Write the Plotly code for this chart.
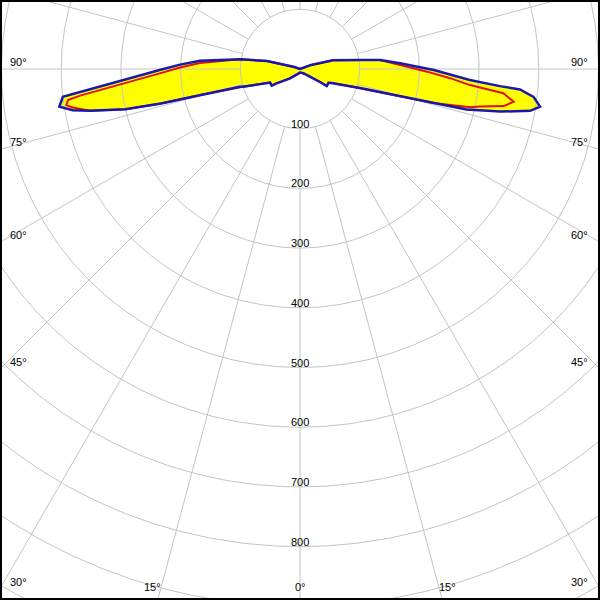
import numpy as np
import plotly.graph_objects as go

# ---- data: luminous intensity (cd) vs. angle from nadir (deg, + to the right) ----
blue_gamma = [-180, -115, -110, -103.5, -99.2, -94.7, -92.1, -89.6, -87.7, -86.2, -85.0, -84.0,
              -83.3, -81.1, -79.7, -78.8, -77.0, -76.1, -75.4, -73.6, -72.7, -65.5, -59.5, -58.5,
              -47.0, -29.0, 0.0, 37.5, 45.0, 52.4, 57.0, 57.5, 64.2, 66.2, 72.4, 74.9, 75.7, 76.3,
              78.0, 79.7, 81.1, 81.8, 83.2, 84.7, 85.1, 86.3, 89.6, 93.3, 96.4, 98.5, 102.7, 105.0,
              110.0, 115.0, 180.0]
blue_cd = [0, 0, 10, 57, 102, 168, 201, 235, 268, 302, 336, 371,
           400, 408, 387, 359, 300, 240, 173, 105, 100, 55, 55, 46,
           23, 11, 6, 9, 12, 21, 40, 53, 53, 58, 105, 174, 230, 287,
           343, 392, 407, 403, 394, 370, 336, 285, 224, 168, 135, 101, 68, 57,
           20, 0, 0]

red_gamma = [-180, -115, -110, -103.5, -99.2, -93.4, -90.7, -88.2, -86.4, -85.1, -84.0, -83.1,
             -82.4, -81.2, -80.4, -78.8, -77.0, -76.1, -75.4, -73.6, -72.7, -65.5, -59.5, -58.5,
             -47.0, -29.0, 0.0, 37.5, 45.0, 52.4, 57.0, 57.5, 64.2, 66.2, 72.4, 74.9, 75.7, 77.3,
             78.2, 79.7, 81.3, 83.2, 84.6, 86.5, 88.8, 92.3, 96.4, 98.5, 102.7, 105.0, 110.0,
             115.0, 180.0]
red_cd = [0, 0, 10, 57, 102, 168, 201, 235, 269, 303, 337, 371,
          392, 396, 386, 359, 300, 240, 173, 105, 100, 55, 55, 46,
          23, 11, 6, 9, 12, 21, 40, 53, 53, 58, 105, 174, 230, 292,
          308, 347, 362, 343, 286, 252, 213, 168, 135, 101, 68, 57, 20,
          0, 0]

ring_values = [100, 200, 300, 400, 500, 600, 700, 800, 900, 1000, 1100]
ring_labels = ["100", "200", "300", "400", "500", "600", "700", "800"]
spoke_angles = list(range(0, 360, 15))
side_angle_labels = [90, 75, 60, 45, 30]
bottom_angle_labels = [0, 15]

# ---- layout geometry (pixels) ----
W = H = 600
PX_PER_CD = 0.597
CX, CY = 300, 69
XR = CX / PX_PER_CD
Y_TOP = CY / PX_PER_CD
Y_BOT = -(H - CY) / PX_PER_CD

GRID = "#c4c4c4"
BLUE = "#1818b0"
RED = "#e01010"
YELLOW = "#ffff00"
FONT = dict(family="Liberation Sans, Arial, sans-serif", size=11, color="black")


def polar_xy(gamma_deg, cd):
    g = np.radians(np.asarray(gamma_deg, dtype=float))
    r = np.asarray(cd, dtype=float)
    return r * np.sin(g), -r * np.cos(g)


fig = go.Figure()

bx, by = polar_xy(blue_gamma, blue_cd)
rx, ry = polar_xy(red_gamma, red_cd)

# yellow fill of the blue curve
fig.add_trace(go.Scatter(x=bx, y=by, mode="lines", fill="toself", fillcolor=YELLOW,
                         line=dict(width=0, color=YELLOW), hoverinfo="skip"))

# grid circles
t = np.linspace(0, 2 * np.pi, 721)
gx, gy = [], []
for r in ring_values:
    gx += list(r * np.sin(t)) + [None]
    gy += list(-r * np.cos(t)) + [None]
# spokes from the first ring outward
for a in spoke_angles:
    x0, y0 = polar_xy(a, ring_values[0])
    x1, y1 = polar_xy(a, 1300)
    gx += [float(x0), float(x1), None]
    gy += [float(y0), float(y1), None]
fig.add_trace(go.Scatter(x=gx, y=gy, mode="lines", line=dict(color=GRID, width=1),
                         hoverinfo="skip"))

# outlines
fig.add_trace(go.Scatter(x=rx, y=ry, mode="lines", line=dict(color=RED, width=2),
                         hoverinfo="skip"))
fig.add_trace(go.Scatter(x=bx, y=by, mode="lines", line=dict(color=BLUE, width=2.5),
                         hoverinfo="skip"))

ann = []
for lab in ring_labels:
    v = float(lab)
    ann.append(dict(x=0, y=-v, text=lab, showarrow=False, xanchor="center",
                    yanchor="bottom", yshift=-3, font=FONT))

for a in side_angle_labels:
    yy = -XR / np.tan(np.radians(a)) if a != 90 else 0.0
    ann.append(dict(x=-XR, y=yy, text=f"{a}°", showarrow=False, xanchor="left",
                    yanchor="bottom", xshift=8, yshift=-1, font=FONT))
    ann.append(dict(x=XR, y=yy, text=f"{a}°", showarrow=False, xanchor="right",
                    yanchor="bottom", xshift=-10, yshift=-1, font=FONT))

for a in bottom_angle_labels:
    xx = -Y_BOT * np.tan(np.radians(a))
    if a == 0:
        ann.append(dict(x=0, y=Y_BOT, text=f"{a}°", showarrow=False, xanchor="center",
                        yanchor="bottom", yshift=5, font=FONT))
    else:
        ann.append(dict(x=-xx, y=Y_BOT, text=f"{a}°", showarrow=False, xanchor="right",
                        yanchor="bottom", yshift=5, xshift=5, font=FONT))
        ann.append(dict(x=xx, y=Y_BOT, text=f"{a}°", showarrow=False, xanchor="left",
                        yanchor="bottom", yshift=5, xshift=-5, font=FONT))

fig.update_layout(
    width=W, height=H,
    margin=dict(l=0, r=0, t=0, b=0),
    paper_bgcolor="white", plot_bgcolor="white",
    showlegend=False,
    xaxis=dict(range=[-XR, XR], visible=False, fixedrange=True),
    yaxis=dict(range=[Y_BOT, Y_TOP], visible=False, fixedrange=True),
    annotations=ann,
    shapes=[dict(type="rect", xref="paper", yref="paper", x0=0, y0=0, x1=1, y1=1,
                 line=dict(color="black", width=4))],
)

fig.write_html(
    "out.html",
    config={"displayModeBar": False},
    post_script="document.body.style.margin='0';document.body.style.padding='0';"
                "document.body.style.overflow='hidden';",
)
